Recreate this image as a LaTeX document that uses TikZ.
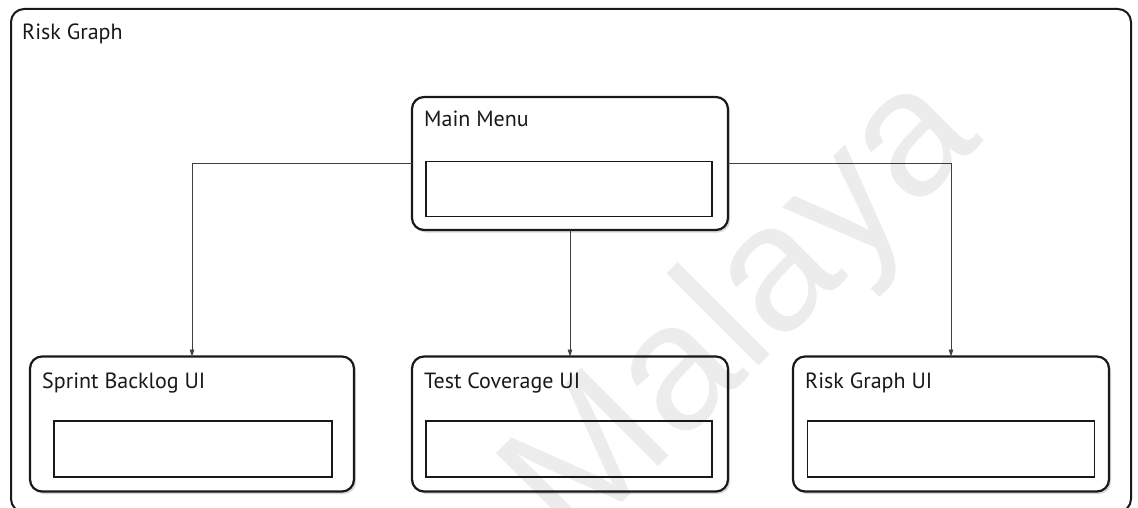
\documentclass[tikz,border=0pt]{standalone}
\usepackage{fontspec}
\setmainfont{PT Sans}
\newfontfamily\wmfont{Liberation Sans}
\usetikzlibrary{arrows.meta,shadows}
\tikzset{
  frame/.style={draw=black!90, line width=2pt, rounded corners=13pt},
  uibox/.style={draw=black!90, fill=white, line width=2.2pt, rounded corners=12pt,
    drop shadow={shadow xshift=2pt, shadow yshift=-2.5pt, opacity=0.25, fill=black!60},
    inner sep=0pt, outer sep=0pt},
  field/.style={draw=black!90, fill=white, line width=1.8pt, inner sep=0pt},
  lbl/.style={anchor=base west, inner sep=0pt, font=\fontsize{22}{26}\selectfont, text=black!90},
  conn/.style={draw=black!75, line width=0.9pt, -{Triangle[length=7pt,width=4.5pt]}},
  wm/.style={anchor=base, inner sep=0pt, rotate=45, text=black, text opacity=0.075,
    font=\wmfont\fontsize{180}{185}\selectfont}
}
\begin{document}
\begin{tikzpicture}[x=1pt,y=-1pt]
\useasboundingbox (0,0) rectangle (1138,508);
\begin{scope}
\clip (0,0) rectangle (1138,508);
\node[frame, minimum width=1120pt, minimum height=503pt, anchor=north west] (outer) at (10,8) {};
\node[lbl] (outerlbl) at (22,40) {Risk Graph};
% boxes
\node[uibox, minimum width=316pt, minimum height=133pt] (mm) at (570,163.5) {};
\node[field, minimum width=286pt, minimum height=55pt] (mmf) at (569,189) {};
\node[lbl] (mml) at (424,127) {Main Menu};

\node[uibox, minimum width=324pt, minimum height=135pt] (sb) at (192,424) {};
\node[field, minimum width=278pt, minimum height=56pt] (sbf) at (193,449) {};
\node[lbl] (sbl) at (42,388) {Sprint Backlog UI};

\node[uibox, minimum width=316pt, minimum height=135pt] (tc) at (570,424) {};
\node[field, minimum width=286pt, minimum height=56pt] (tcf) at (569,449) {};
\node[lbl] (tcl) at (424,388) {Test Coverage UI};

\node[uibox, minimum width=316pt, minimum height=135pt] (rg) at (951,424) {};
\node[field, minimum width=287pt, minimum height=56pt] (rgf) at (951,449) {};
\node[lbl] (rgl) at (805,388) {Risk Graph UI};

% connectors
\draw[conn] (mm.west) -| (sb.north);
\draw[conn] (mm.south) -- (tc.north);
\draw[conn] (mm.east) -| (rg.north);
% watermark
\node[wm] (wmark) at (779,346) {Malaya};
\end{scope}
\end{tikzpicture}
\end{document}
